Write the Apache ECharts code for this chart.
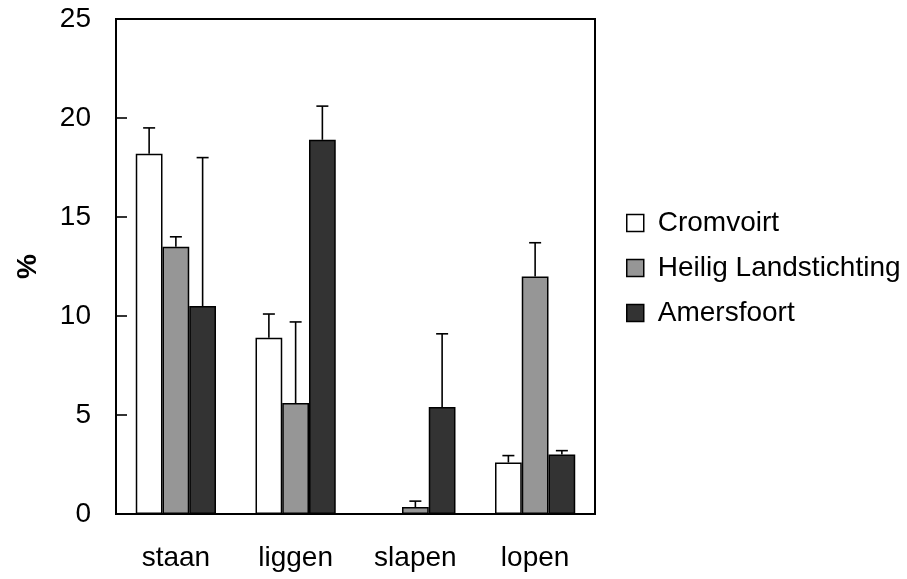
<!DOCTYPE html>
<html>
<head>
<meta charset="utf-8">
<script src="https://cdn.jsdelivr.net/npm/echarts@6/dist/echarts.min.js"></script>
<style>
html,body{margin:0;padding:0;background:#fff;}
#chart{width:907px;height:579px;}
</style>
</head>
<body>
<div id="chart"></div>
<script>
const categories = ['staan', 'liggen', 'slapen', 'lopen'];
const seriesNames = ['Cromvoirt', 'Heilig Landstichting', 'Amersfoort'];
const cromvoirt = [18.2, 8.9, 0, 2.6];
const heilig = [13.5, 5.6, 0.35, 12.0];
const amersfoort = [10.5, 18.9, 5.4, 3.0];
const cromvoirtErr = [1.3, 1.2, 0, 0.35];
const heiligErr = [0.5, 4.1, 0.3, 1.7];
const amersfoortErr = [7.5, 1.7, 3.7, 0.2];
const yTicks = [0, 5, 10, 15, 20, 25];

const values = [cromvoirt, heilig, amersfoort];
const errors = [cromvoirtErr, heiligErr, amersfoortErr];
const colors = ['#ffffff', '#969696', '#333333'];
const FONT = 'Liberation Sans';
const catGap = 0.33;

const chart = echarts.init(document.getElementById('chart'), null, {renderer: 'canvas'});

const barSeries = values.map((vals, i) => ({
  name: seriesNames[i],
  type: 'bar',
  data: vals,
  barGap: '0%',
  barCategoryGap: (catGap * 100) + '%',
  itemStyle: {color: colors[i], borderColor: '#000', borderWidth: 1.5},
  emphasis: {disabled: true},
  z: 2
}));

const errSeries = values.map((vals, i) => ({
  type: 'custom',
  silent: true,
  z: 1,
  data: vals.map((v, k) => [k, v, v + errors[i][k], errors[i][k]]),
  renderItem: function (params, api) {
    const err = api.value(3);
    if (!(err > 0)) return null;
    const band = api.size([1, 0])[0];
    const bw = band * (1 - catGap) / 3;
    const off = (i - 1) * bw;
    const p0 = api.coord([api.value(0), api.value(1)]);
    const p1 = api.coord([api.value(0), api.value(2)]);
    const x = p0[0] + off;
    const cap = 6;
    const st = {stroke: '#000', lineWidth: 1.6};
    return {
      type: 'group',
      children: [
        {type: 'line', shape: {x1: x, y1: p0[1], x2: x, y2: p1[1]}, style: st},
        {type: 'line', shape: {x1: x - cap, y1: p1[1], x2: x + cap, y2: p1[1]}, style: st}
      ]
    };
  }
}));

chart.setOption({
  animation: false,
  backgroundColor: '#fff',
  textStyle: {fontFamily: FONT},
  grid: {
    left: 116, right: 312, top: 19, bottom: 65,
    show: true, borderColor: '#000', borderWidth: 2, backgroundColor: 'transparent'
  },
  legend: {
    orient: 'vertical',
    left: 621,
    top: 204,
    itemWidth: 17,
    itemHeight: 17,
    itemGap: 17,
    icon: 'rect',
    data: seriesNames,
    textStyle: {fontFamily: FONT, fontSize: 28, color: '#000', lineHeight: 28, padding: [0, 0, 0, 9]},
    itemStyle: {borderColor: '#000', borderWidth: 1.5}
  },
  xAxis: {
    type: 'category',
    data: categories,
    axisLine: {lineStyle: {color: '#000', width: 2}},
    axisTick: {show: false},
    axisLabel: {fontFamily: FONT, fontSize: 28, color: '#000', margin: 30}
  },
  yAxis: {
    type: 'value',
    min: 0, max: 25, interval: 5,
    name: '%',
    nameLocation: 'middle',
    nameGap: 74,
    nameRotate: 90,
    nameTextStyle: {fontFamily: FONT, fontSize: 28, fontWeight: 'bold', color: '#000'},
    axisLine: {show: true, lineStyle: {color: '#000', width: 2}},
    axisTick: {show: true, inside: true, length: 11, lineStyle: {color: '#000', width: 1.6}},
    splitLine: {show: false},
    axisLabel: {
      fontFamily: FONT, fontSize: 28, color: '#000', margin: 25,
      formatter: v => yTicks.includes(v) ? String(v) : ''
    }
  },
  series: barSeries.concat(errSeries)
});
</script>
</body>
</html>
